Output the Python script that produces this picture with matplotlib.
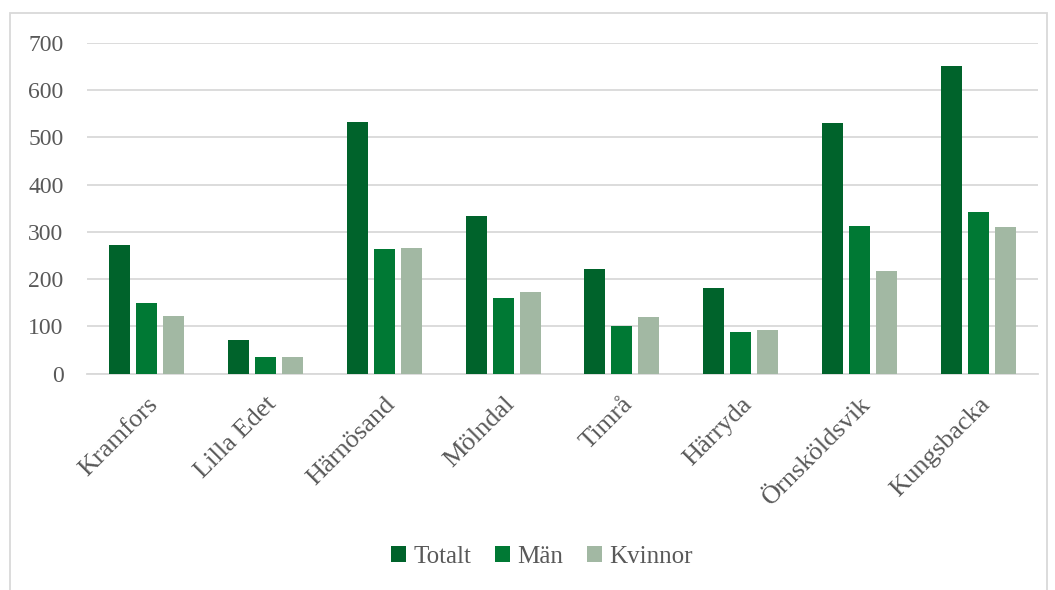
import matplotlib.pyplot as plt
import numpy as np
from matplotlib.patches import Rectangle

# data
kommuner = ["Kramfors", "Lilla Edet", "Härnösand", "Mölndal", "Timrå",
            "Härryda", "Örnsköldsvik", "Kungsbacka"]
totalt = [272, 71, 533, 334, 221, 181, 531, 652]
man = [149, 35, 264, 160, 100, 88, 313, 342]
kvinnor = [122, 35, 266, 173, 119, 92, 217, 310]

serie_namn = ["Totalt", "Män", "Kvinnor"]
farger = ["#00632B", "#007934", "#A2B8A3"]

plt.rcParams['font.family'] = ['Liberation Serif', 'DejaVu Serif']

fig = plt.figure(figsize=(10.55, 5.90), dpi=100)
ax = fig.add_axes([87 / 1055, 1 - 373.5 / 590, 951 / 1055, 330.5 / 590])

x = np.arange(len(kommuner))
w = 0.176
step = 0.227
for i, (vals, namn, c) in enumerate(zip([totalt, man, kvinnor], serie_namn, farger)):
    ax.bar(x + (i - 1) * step, vals, width=w, color=c, label=namn, zorder=3)

ax.set_xlim(-0.5, len(kommuner) - 0.5)
ax.set_ylim(0, 700)
ax.set_yticks(range(0, 701, 100))
ax.yaxis.grid(True, color="#D9D9D9", linewidth=1.3, zorder=0)
ax.tick_params(axis="y", length=0, labelsize=17, labelcolor="#595959", pad=17)
ax.tick_params(axis="x", length=0, labelsize=19, labelcolor="#595959", pad=14)
for s in ["top", "right", "left"]:
    ax.spines[s].set_visible(False)
ax.spines["bottom"].set_color("#D9D9D9")
ax.spines["bottom"].set_linewidth(1.3)

ax.set_xticks(x)
ax.set_xticklabels(kommuner, rotation=45, ha="right", rotation_mode="anchor")

fig.legend(loc="center", bbox_to_anchor=(542 / 1055, 1 - 557 / 590), ncol=3, frameon=False,
           fontsize=18, handlelength=0.6, handleheight=0.6, handletextpad=0.3,
           columnspacing=0.95, labelcolor="#595959")

# light frame round the chart area
fig.patches.append(Rectangle((10 / 1055, -0.01), 1037 / 1055, 1 - 13 / 590 + 0.01,
                             transform=fig.transFigure, fill=False,
                             edgecolor="#D9D9D9", linewidth=1.3))

fig.savefig("out.png", dpi=100)
